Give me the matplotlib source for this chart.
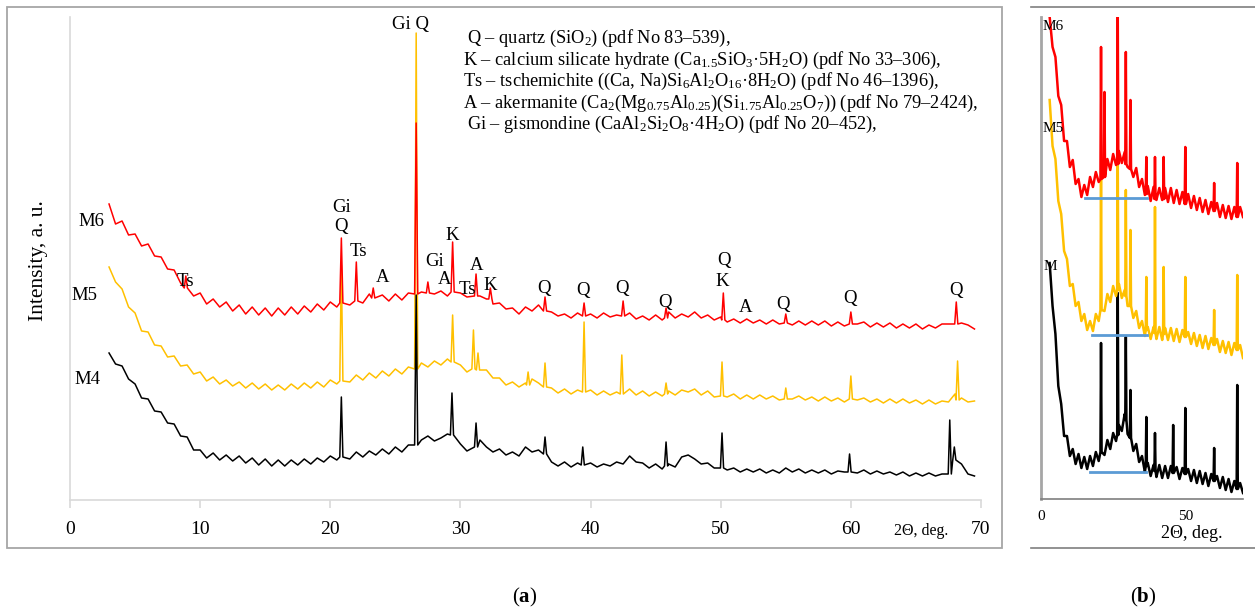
import matplotlib.pyplot as plt
from matplotlib.lines import Line2D
from matplotlib.patches import Rectangle

plt.rcParams['font.family'] = ['Liberation Serif', 'DejaVu Serif']
plt.rcParams['mathtext.fontset'] = 'custom'
plt.rcParams['mathtext.rm'] = 'Liberation Serif'
plt.rcParams['mathtext.it'] = 'Liberation Serif:italic'
plt.rcParams['mathtext.bf'] = 'Liberation Serif:bold'

W, H = 1255, 614

RED, YELLOW, BLACK, BLUE = '#ff0000', '#ffc000', '#000000', '#5b9bd5'

# ---- panel (a): background read every 0.5 deg, 3.0 .. 69.5 ----
a_start, a_step = 3.0, 0.5
m6_a_base = [296, 276, 279, 265, 266, 254, 256, 244, 243, 231,
             230, 217, 216, 204, 207, 196, 201, 193, 198, 189,
             195, 186, 193, 185, 192, 184, 192, 185, 193, 186,
             194, 188, 196, 190, 198, 193, 200, 195, 202, 197,
             206, 199, 205, 199, 206, 200, 207, 204, 208, 210,
             206, 209, 204, 212, 207, 203, 207, 204, 201, 196,
             197, 191, 192, 186, 193, 189, 195, 191, 188, 184,
             186, 182, 187, 183, 186, 182, 187, 183, 185, 184,
             187, 181, 184, 180, 185, 180, 188, 182, 186, 183,
             188, 182, 185, 180, 183, 178, 181, 177, 181, 177,
             180, 176, 180, 176, 181, 175, 179, 175, 179, 175,
             179, 174, 178, 174, 179, 176, 178, 173, 177, 173,
             177, 172, 176, 172, 176, 171, 175, 172, 176, 176,
             180, 177, 175, 171]
m5_a_base = [233, 218, 211, 193, 187, 169, 168, 155, 154, 143,
             144, 134, 135, 126, 128, 119, 123, 116, 120, 114,
             118, 112, 117, 111, 116, 110, 115, 110, 116, 111,
             117, 112, 118, 113, 120, 116, 123, 118, 125, 120,
             127, 122, 129, 124, 131, 126, 133, 130, 137, 133,
             139, 135, 141, 136, 135, 128, 133, 138, 130, 122,
             122, 115, 118, 113, 117, 121, 117, 114, 112, 107,
             111, 106, 110, 107, 110, 105, 109, 105, 108, 106,
             111, 105, 109, 104, 108, 104, 109, 105, 110, 108,
             111, 105, 109, 103, 107, 103, 106, 101, 105, 101,
             105, 101, 104, 100, 106, 101, 104, 100, 103, 99,
             103, 99, 102, 98, 103, 100, 102, 98, 101, 97,
             101, 97, 101, 97, 100, 96, 100, 96, 99, 98,
             106, 102, 98, 99]
m4_a_base = [147, 136, 134, 121, 116, 102, 101, 89, 88, 77,
             76, 64, 63, 50, 50, 42, 47, 40, 45, 39,
             44, 37, 42, 35, 41, 34, 40, 34, 40, 35,
             41, 36, 42, 38, 44, 40, 46, 41, 48, 43,
             49, 45, 51, 46, 53, 48, 55, 53, 60, 64,
             59, 62, 66, 70, 56, 49, 52, 60, 53, 48,
             51, 45, 48, 44, 53, 48, 50, 48, 38, 34,
             38, 33, 37, 33, 37, 33, 36, 34, 38, 36,
             44, 38, 37, 32, 36, 31, 36, 33, 43, 45,
             41, 36, 37, 32, 36, 30, 32, 28, 31, 28,
             31, 27, 30, 27, 32, 28, 31, 27, 30, 27,
             30, 26, 29, 28, 31, 27, 30, 26, 29, 26,
             28, 25, 28, 24, 27, 24, 27, 24, 26, 27,
             50, 36, 26, 24]

# reflections: (2theta, apex, foot)
m6_a_peaks = [(8.9, 224, 212), (20.85, 262, 197), (22.0, 238, 199), (23.3, 212, 202),
              (26.6, 377, 206), (27.5, 218, 207), (29.4, 258, 208), (31.2, 226, 204),
              (32.3, 212, 201), (36.5, 203, 189), (39.5, 197, 184), (42.5, 199, 184),
              (45.8, 192, 182), (50.2, 207, 180), (55.0, 186, 177), (60.0, 188, 176),
              (68.1, 198, 176)]
m5_a_peaks = [(20.85, 235, 119), (26.6, 467, 131), (29.4, 185, 138), (31.0, 170, 131),
              (31.35, 147, 130), (35.2, 128, 115), (36.5, 137, 113), (39.5, 178, 108),
              (42.4, 145, 106), (45.8, 117, 106), (50.1, 138, 104), (55.0, 112, 101),
              (60.0, 124, 101), (68.2, 139, 100)]
m4_a_peaks = [(20.85, 103, 43), (26.6, 205, 55), (29.35, 107, 65), (31.2, 77, 53),
              (36.5, 63, 46), (39.4, 53, 35), (45.8, 58, 34), (50.1, 67, 32),
              (59.9, 46, 28), (67.6, 80, 26), (67.95, 53, 40)]

# ---- panel (b): background read every 1 deg, 3 .. 70 ----
b_start, b_step = 3.0, 1.0
m6_b_base = [482, 452, 442, 403, 394, 358, 358, 332, 339, 315,
             320, 302, 314, 304, 322, 312, 327, 317, 333, 324,
             340, 329, 345, 334, 348, 336, 347, 332, 340, 322,
             331, 312, 320, 304, 313, 298, 312, 299, 311, 299,
             311, 297, 311, 296, 309, 295, 307, 293, 305, 291,
             303, 289, 301, 287, 299, 285, 297, 283, 296, 282,
             294, 281, 293, 280, 292, 280, 292, 282]
m5_b_base = [399, 353, 340, 298, 285, 248, 240, 213, 215, 193,
             197, 178, 185, 169, 178, 168, 185, 178, 195, 188,
             205, 197, 213, 203, 215, 201, 209, 193, 199, 181,
             188, 171, 178, 163, 172, 160, 172, 160, 172, 159,
             171, 159, 171, 158, 170, 157, 169, 156, 167, 155,
             166, 153, 164, 151, 163, 150, 161, 148, 160, 147,
             158, 146, 157, 144, 156, 143, 154, 141]
m4_b_base = [236, 193, 165, 113, 95, 63, 63, 43, 50, 35,
             45, 31, 42, 30, 43, 33, 47, 38, 53, 44,
             59, 50, 66, 58, 74, 68, 85, 65, 67, 48,
             55, 37, 43, 27, 36, 23, 34, 22, 34, 21,
             33, 21, 33, 20, 32, 20, 31, 19, 30, 18,
             29, 16, 28, 15, 26, 13, 25, 12, 23, 11,
             22, 9, 20, 7, 18, 4, 16, 6]

m6_b_peaks = [(20.8, 452, 320), (22.0, 407, 322), (26.6, 482, 335), (29.4, 447, 335),
              (31.0, 399, 330), (36.5, 342, 305), (39.5, 342, 300), (42.5, 342, 300),
              (50.0, 352, 295), (60.0, 316, 288), (68.0, 336, 282)]
m5_b_peaks = [(20.8, 319, 189), (26.6, 334, 209), (29.4, 309, 203), (31.0, 269, 193),
              (36.5, 222, 169), (39.5, 292, 166), (42.5, 232, 165), (50.0, 222, 162),
              (60.0, 189, 154), (68.0, 224, 149)]
m4_b_peaks = [(20.8, 156, 47), (26.6, 206, 64), (29.4, 162, 79), (31.0, 109, 61),
              (36.5, 82, 33), (39.5, 66, 28), (45.8, 74, 26), (50.0, 91, 25),
              (60.0, 51, 18), (68.0, 114, 10)]

# amorphous hump base lines in (b): (from, to, level)
b_hump_lines = [(15.3, 36.8, 301), (17.7, 36.8, 164), (17.0, 36.5, 27)]

# phase marks over the M6 pattern in (a): (text, 2theta, level)
phase_marks = [("Ts", 8.9, 218), ("Gi", 20.85, 292), ("Q", 20.8, 274), ("Ts", 22.15, 249),
               ("A", 24.0, 222), ("Gi Q", 26.15, 476), ("Gi", 28.0, 238), ("A", 28.75, 221),
               ("K", 29.4, 265), ("Ts", 30.55, 211), ("A", 31.25, 234), ("K", 32.25, 214),
               ("Q", 36.45, 211), ("Q", 39.45, 210), ("Q", 42.4, 212), ("Q", 45.7, 197),
               ("Q", 50.25, 240), ("K", 50.15, 218), ("A", 51.9, 193), ("Q", 54.75, 195),
               ("Q", 59.9, 202), ("Q", 68.1, 210)]

legend_lines = [
    "Q – quartz (SiO$_2$) (pdf No 83–539),",
    "K – calcium silicate hydrate (Ca$_{1.5}$SiO$_3$·5H$_2$O) (pdf No 33–306),",
    "Ts – tschemichite ((Ca, Na)Si$_6$Al$_2$O$_{16}$·8H$_2$O) (pdf No 46–1396),",
    "A – akermanite (Ca$_2$(Mg$_{0.75}$Al$_{0.25}$)(Si$_{1.75}$Al$_{0.25}$O$_7$)) (pdf No 79–2424),",
    "Gi – gismondine (CaAl$_2$Si$_2$O$_8$·4H$_2$O) (pdf No 20–452),",
]


def trace(start, step, base, peaks, half):
    pts = []
    for i, v in enumerate(base):
        x = start + i * step
        if all(abs(x - p) > half + 0.08 for p, _, _ in peaks):
            pts.append((x, v))
    for p, top, foot in peaks:
        pts += [(p - half, foot), (p, top), (p + half, foot)]
    pts.sort()
    return [p[0] for p in pts], [p[1] for p in pts]


def fx(px):
    return px / W


def fy(py):
    return 1 - py / H


fig = plt.figure(figsize=(W / 100, H / 100), dpi=100)

# ---------------- panel (a) ----------------
ax = fig.add_axes([fx(70), fy(500), (981 - 70) / W, (500 - 17) / H])
ax.set_xlim(0, 70)
ax.set_ylim(0, 483)

for base, peaks, col in [(m5_a_base, m5_a_peaks, YELLOW),
                         (m6_a_base, m6_a_peaks, RED),
                         (m4_a_base, m4_a_peaks, BLACK)]:
    xs, ys = trace(a_start, a_step, base, peaks, 0.12)
    ax.plot(xs, ys, color=col, lw=1.1)

for s in ['top', 'right']:
    ax.spines[s].set_visible(False)
for s in ['left', 'bottom']:
    ax.spines[s].set_color('#d9d9d9')
    ax.spines[s].set_linewidth(1.2)
ax.set_yticks([])
ax.set_xticks(range(0, 71, 10))
ax.tick_params(axis='x', direction='out', length=6, width=1.2, color='#d9d9d9',
               labelsize=14, pad=9)
ax.set_ylabel("Intensity, a. u.", fontsize=15.5)
ax.yaxis.set_label_coords(-22 / 911, (500 - 261) / 483)

for txt, x, y in phase_marks:
    ax.text(x, y, txt, fontsize=13.5, ha='center', va='center')

fig.text(fx(91), fy(222), "M6", fontsize=13.5, ha='center', va='center')
fig.text(fx(84), fy(296), "M5", fontsize=13.5, ha='center', va='center')
fig.text(fx(87), fy(379), "M4", fontsize=13.5, ha='center', va='center')
fig.text(fx(921), fy(531), "2Θ, deg.", fontsize=11.5, ha='center', va='center')

for i, line in enumerate(legend_lines):
    x0 = 467 if i in (0, 4) else 463
    fig.text(fx(x0), fy(43 + 21.5 * i), line, fontsize=13.2, ha='left', va='baseline')

fig.add_artist(Rectangle((fx(7), fy(548)), (1002 - 7) / W, (548 - 7) / H, fill=False,
                         ec='#a6a6a6', lw=1.3, transform=fig.transFigure))
fig.text(fx(525), fy(597), "($\\mathbf{a}$)", fontsize=15, ha='center', va='center')

# ---------------- panel (b) ----------------
bx = fig.add_axes([fx(1041), fy(499), (1243 - 1041) / W, (499 - 17) / H])
bx.set_xlim(0, 70)
bx.set_ylim(0, 482)

for base, peaks, col in [(m4_b_base, m4_b_peaks, BLACK),
                         (m5_b_base, m5_b_peaks, YELLOW),
                         (m6_b_base, m6_b_peaks, RED)]:
    xs, ys = trace(b_start, b_step, base, peaks, 0.2)
    bx.plot(xs, ys, color=col, lw=1.8)

for x0, x1, lvl in b_hump_lines:
    bx.plot([x0, x1], [lvl, lvl], color=BLUE, lw=2)

for s in ['top', 'right']:
    bx.spines[s].set_visible(False)
bx.spines['left'].set_color('#a6a6a6')
bx.spines['left'].set_linewidth(2)
bx.spines['bottom'].set_color('#7f7f7f')
bx.spines['bottom'].set_linewidth(1.2)
bx.set_yticks([])
bx.set_xticks([0, 50])
bx.tick_params(axis='x', length=0, labelsize=11, pad=8)

fig.text(fx(1053), fy(26), "M6", fontsize=11, ha='center', va='center')
fig.text(fx(1053), fy(128), "M5", fontsize=11, ha='center', va='center')
fig.text(fx(1050), fy(266), "M", fontsize=11, ha='center', va='center')
fig.text(fx(1192), fy(533), "2Θ, deg.", fontsize=13, ha='center', va='center')

fig.add_artist(Line2D([fx(1031), 1], [fy(7), fy(7)], color='#7f7f7f', lw=1.2,
                      transform=fig.transFigure))
fig.add_artist(Line2D([fx(1031), 1], [fy(548), fy(548)], color='#7f7f7f', lw=1.2,
                      transform=fig.transFigure))
fig.text(fx(1143), fy(597), "($\\mathbf{b}$)", fontsize=15, ha='center', va='center')

fig.savefig("out.png", dpi=100)
